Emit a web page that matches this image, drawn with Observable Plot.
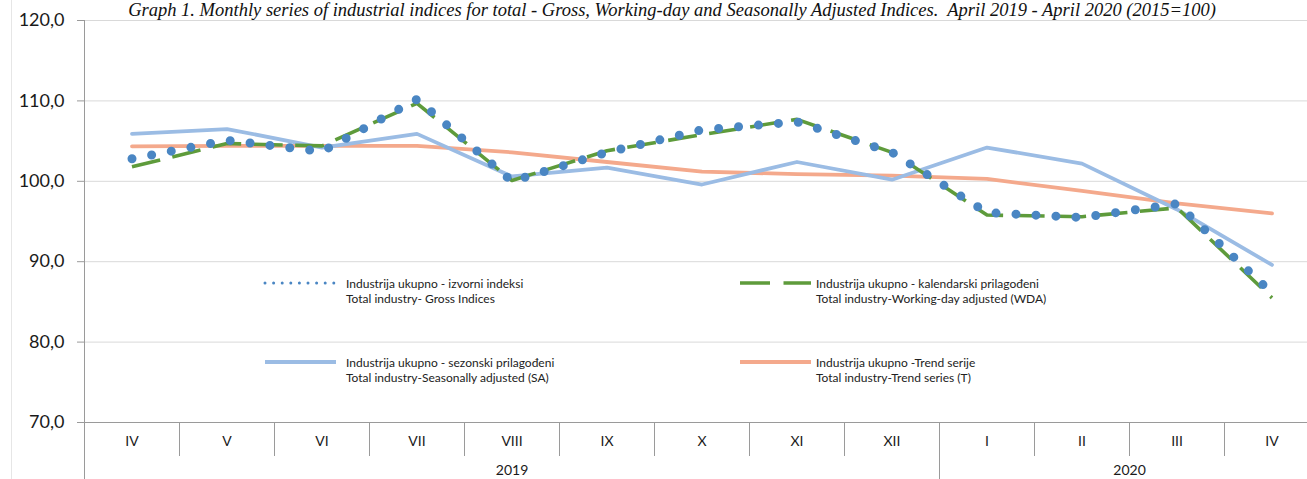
<!DOCTYPE html>
<html>
<head>
<meta charset="utf-8">
<script src="https://cdn.jsdelivr.net/npm/d3@7"></script>
<script src="https://cdn.jsdelivr.net/npm/@observablehq/plot@0.6"></script>
<style>
  html, body { margin: 0; padding: 0; background: #fff; overflow: hidden; }
  #wrap { position: relative; width: 1307px; height: 479px; overflow: hidden; font-family: Lato, "DejaVu Sans", sans-serif; }
  #title { position: absolute; top: 0px; left: 672px; transform: translateX(-50%); white-space: pre;
           font-family: "Liberation Serif", serif; font-style: italic; font-size: 18.5px; line-height: 20px; color: #111; }
  #border { position: absolute; left: 11px; top: 0; width: 0; height: 479px; border-left: 1px solid #e6e6e6; }
  .leg { position: absolute; font-size: 12px; line-height: 15px; color: #222; white-space: nowrap; }
  .sw { position: absolute; }
</style>
</head>
<body>
<div id="wrap">
  <div id="border"></div>
  <div id="title"></div>
</div>
<script>
// ---- data ----
const months = ["IV", "V", "VI", "VII", "VIII", "IX", "X", "XI", "XII", "I", "II", "III", "IV"];
const monthYears = ["2019", "2019", "2019", "2019", "2019", "2019", "2019", "2019", "2019", "2020", "2020", "2020", "2020"];
const yearLabels = ["2019", "2020"];
const gross = [102.8, 105.1, 103.7, 110.2, 100.0, 103.6, 106.4, 107.4, 103.6, 96.1, 95.5, 97.2, 86.1];
const wda   = [101.8, 104.7, 104.4, 109.7, 100.1, 103.8, 105.8, 107.7, 103.6, 95.8, 95.6, 96.7, 85.5];
const sa    = [105.9, 106.5, 104.2, 105.9, 100.6, 101.7, 99.6, 102.4, 100.2, 104.2, 102.2, 96.5, 89.6];
const trend = [104.35, 104.4, 104.4, 104.4, 103.6, 102.4, 101.2, 100.9, 100.7, 100.3, 98.8, 97.25, 96.0];
const yTicks = [70, 80, 90, 100, 110, 120];
const titleText = "Graph 1. Monthly series of industrial indices for total - Gross, Working-day and Seasonally Adjusted Indices.  April 2019 - April 2020 (2015=100)";
const legendItems = [
  {key: "gross", l1: "Industrija ukupno - izvorni indeksi", l2: "Total industry- Gross Indices"},
  {key: "wda", l1: "Industrija ukupno - kalendarski prilagođeni", l2: "Total industry-Working-day adjusted (WDA)"},
  {key: "sa", l1: "Industrija ukupno - sezonski prilagođeni", l2: "Total industry-Seasonally adjusted (SA)"},
  {key: "trend", l1: "Industrija ukupno -Trend serije", l2: "Total industry-Trend series (T)"}
];

// ---- styles ----
const C = {gross: "#4a86c3", wda: "#5e9b3b", sa: "#9bbce4", trend: "#f4a98c"};

const rows = months.map((m, i) => ({i, m, gross: gross[i], wda: wda[i], sa: sa[i], trend: trend[i]}));
const xc = d => d.i + 0.5;

// year groups: start index, end index
const yearGroups = yearLabels.map(y => {
  const idx = monthYears.map((v, i) => v === y ? i : -1).filter(i => i >= 0);
  return {y, start: idx[0], end: idx[idx.length - 1] + 1};
});
const yearCenters = yearGroups.map(g => (g.start + g.end) / 2);
const yearBounds = yearGroups.map(g => g.start);

const chart = Plot.plot({
  width: 1307,
  height: 479,
  marginLeft: 84,
  marginRight: 0,
  marginTop: 20,
  marginBottom: 57,
  style: {fontFamily: "Lato, 'DejaVu Sans', sans-serif", background: "#fff", overflow: "hidden"},
  x: {domain: [0, months.length], range: [84, 84 + 95 * months.length]},
  y: {domain: [70, 120]},
  marks: [
    Plot.gridY(yTicks.slice(1), {stroke: "#d9d9d9", strokeOpacity: 1}),
    Plot.axisY({ticks: yTicks, tickFormat: d => d.toFixed(1).replace(".", ","), tickSize: 7, tickPadding: 13,
                fontSize: 18, stroke: "#9a9a9a", fill: "#1a1a1a", label: null}),
    Plot.ruleY([70], {stroke: "#9a9a9a"}),
    Plot.ruleX([0], {y1: 70, y2: 120, stroke: "#9a9a9a"}),
    // month separators
    Plot.axisX({ticks: d3.range(1, months.length + 1), tickSize: 34, tickFormat: () => "", stroke: "#9a9a9a", label: null}),
    // year separators
    Plot.axisX({ticks: yearBounds, tickSize: 60, tickFormat: () => "", stroke: "#9a9a9a", label: null}),
    // month labels
    Plot.axisX({ticks: months.map((m, i) => i + 0.5), tickSize: 0, tickPadding: 14, fontSize: 14,
                tickFormat: d => months[Math.floor(d)], fill: "#1a1a1a", label: null}),
    // year labels
    Plot.axisX({ticks: yearCenters, tickSize: 0, tickPadding: 43, fontSize: 14,
                tickFormat: d => yearLabels[yearCenters.indexOf(d)], fill: "#1a1a1a", label: null}),
    // series
    Plot.line(rows, {x: xc, y: "trend", stroke: C.trend, strokeWidth: 3.8}),
    Plot.line(rows, {x: xc, y: "sa", stroke: C.sa, strokeWidth: 3.8}),
    Plot.line(rows, {x: xc, y: "wda", stroke: C.wda, strokeWidth: 3.6, strokeDasharray: "29 12.5", strokeLinecap: "butt", strokeLinejoin: "round"}),
    Plot.line(rows, {x: xc, y: "gross", stroke: C.gross, strokeWidth: 9, strokeDasharray: "0 20", strokeLinecap: "round"})
  ]
});

const wrap = document.getElementById("wrap");
wrap.insertBefore(chart, wrap.firstChild);
chart.style.position = "absolute";
chart.style.left = "0px";
chart.style.top = "0px";
document.getElementById("title").textContent = titleText;

// legend (layout inside the plot area)
const legPos = [
  {sx: 265, sw: 76, tx: 346, ty: 283},
  {sx: 740, sw: 71, tx: 816, ty: 283},
  {sx: 265, sw: 71, tx: 346, ty: 362},
  {sx: 740, sw: 71, tx: 816, ty: 362}
];
legendItems.forEach((it, k) => {
  const p = legPos[k];
  const ns = "http://www.w3.org/2000/svg";
  const s = document.createElementNS(ns, "svg");
  s.setAttribute("width", p.sw + 6);
  s.setAttribute("height", 10);
  s.setAttribute("class", "sw");
  s.style.left = (p.sx - 3) + "px";
  s.style.top = (p.ty - 5) + "px";
  const ln = document.createElementNS(ns, "line");
  ln.setAttribute("x1", 3); ln.setAttribute("x2", p.sw + 3);
  ln.setAttribute("y1", 5); ln.setAttribute("y2", 5);
  ln.setAttribute("stroke", C[it.key]);
  if (it.key === "gross") {
    ln.setAttribute("stroke-width", 3); ln.setAttribute("stroke-dasharray", "0 8.6"); ln.setAttribute("stroke-linecap", "round");
  } else if (it.key === "wda") {
    ln.setAttribute("stroke-width", 3.6); ln.setAttribute("stroke-dasharray", "30 13.5");
  } else {
    ln.setAttribute("stroke-width", 3.8);
  }
  s.appendChild(ln);
  wrap.appendChild(s);
  const t = document.createElement("div");
  t.className = "leg";
  t.style.left = p.tx + "px";
  t.style.top = (p.ty - 7.5) + "px";
  t.innerHTML = it.l1 + "<br>" + it.l2;
  wrap.appendChild(t);
});
</script>
</body>
</html>
